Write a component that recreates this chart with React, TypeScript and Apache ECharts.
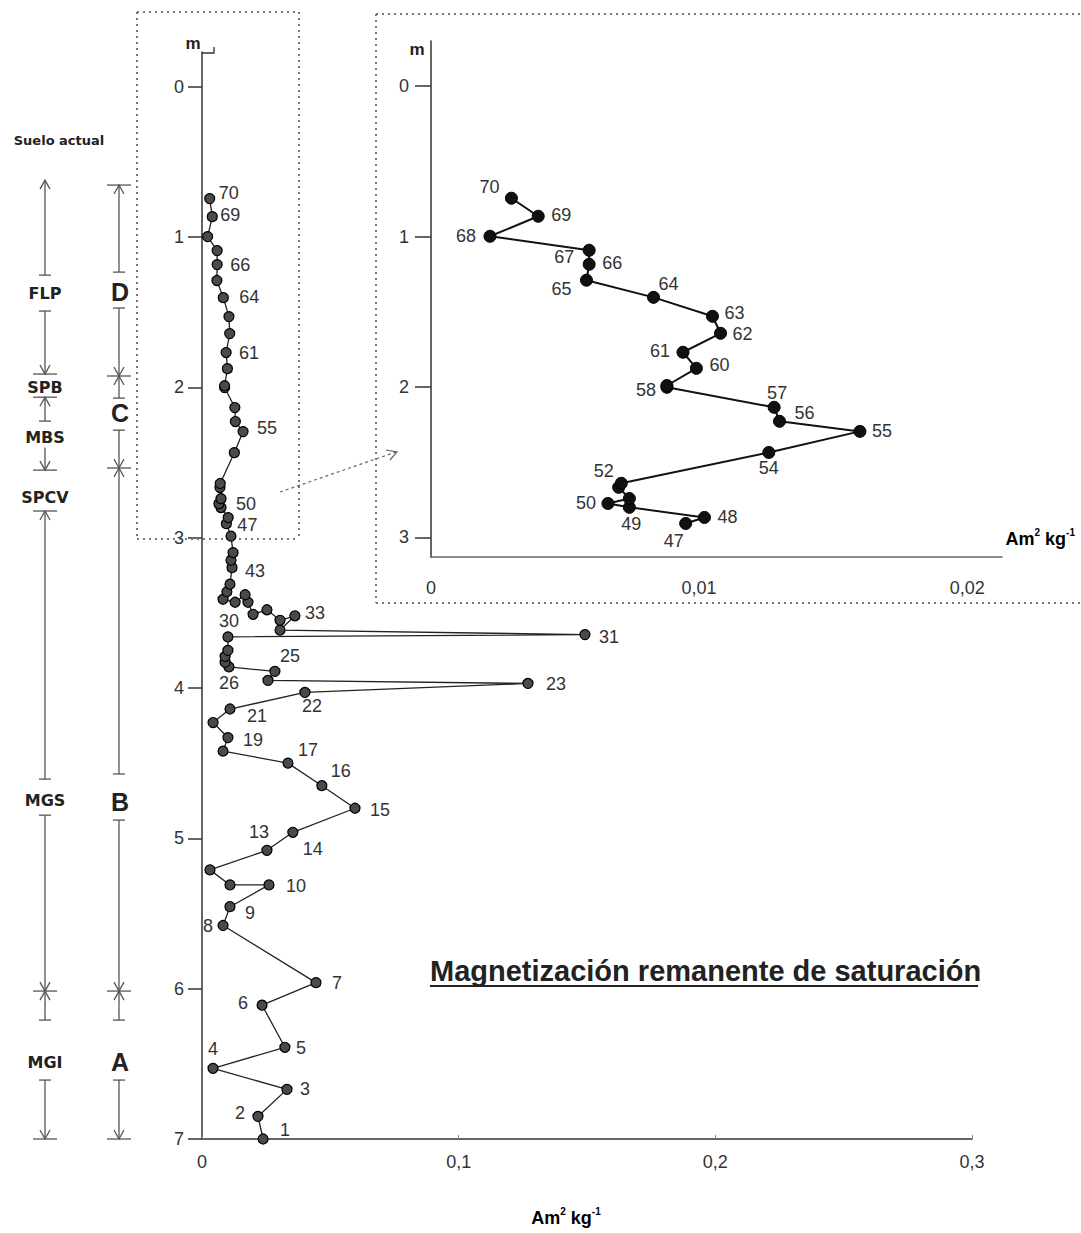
import React, { useEffect, useRef } from "react";
import * as echarts from "echarts";

// Sample numbers (1 = base of the section, 70 = top)
const sampleIds = [
  1, 2, 3, 4, 5, 6, 7, 8, 9, 10, 11, 12, 13, 14, 15, 16, 17, 18, 19, 20,
  21, 22, 23, 24, 25, 26, 27, 28, 29, 30, 31, 32, 33, 34, 35, 36, 37, 38, 39, 40,
  41, 42, 43, 44, 45, 46, 47, 48, 49, 50, 51, 52, 53, 54, 55, 56, 57, 58, 59, 60,
  61, 62, 63, 64, 65, 66, 67, 68, 69, 70,
];

// Saturation remanent magnetization (Am2 kg-1)
const mrsValues = [
  0.0238, 0.0218, 0.0331, 0.0043, 0.0323, 0.0234, 0.0444, 0.0082, 0.0109, 0.0261,
  0.0109, 0.0031, 0.0253, 0.0354, 0.0596, 0.0467, 0.0335, 0.0082, 0.0101, 0.0043,
  0.0109, 0.0401, 0.127, 0.0257, 0.0284, 0.0105, 0.009, 0.009, 0.0101, 0.0101,
  0.1492, 0.0304, 0.0362, 0.0304, 0.0253, 0.0199, 0.0179, 0.0168, 0.0129, 0.0082,
  0.0097, 0.0109, 0.0117, 0.0113, 0.0121, 0.0113, 0.0095, 0.0102, 0.0074, 0.0066,
  0.0074, 0.007, 0.0071, 0.0126, 0.016, 0.013, 0.0128, 0.0088, 0.0088, 0.0099,
  0.0094, 0.0108, 0.0105, 0.0083, 0.0058, 0.0059, 0.0059, 0.0022, 0.004, 0.003,
];

// Depth (m)
const depthValues = [
  7.0, 6.85, 6.67, 6.53, 6.39, 6.11, 5.96, 5.58, 5.455, 5.31,
  5.31, 5.21, 5.08, 4.96, 4.8, 4.65, 4.5, 4.42, 4.33, 4.23,
  4.14, 4.03, 3.97, 3.95, 3.89, 3.86, 3.83, 3.79, 3.75, 3.66,
  3.645, 3.615, 3.52, 3.55, 3.48, 3.51, 3.43, 3.38, 3.43, 3.41,
  3.36, 3.31, 3.2, 3.15, 3.1, 2.99, 2.907, 2.867, 2.8, 2.774,
  2.741, 2.667, 2.64, 2.435, 2.295, 2.228, 2.135, 2.002, 1.99, 1.876,
  1.769, 1.643, 1.53, 1.404, 1.29, 1.184, 1.091, 0.998, 0.865, 0.745,
];

// Samples shown in the enlarged inset (upper 3 m)
const insetIds = [
  47, 48, 49, 50, 51, 52, 53, 54, 55, 56, 57, 58, 59, 60,
  61, 62, 63, 64, 65, 66, 67, 68, 69, 70,
];

const mainDepthTicks = [0, 1, 2, 3, 4, 5, 6, 7];
const insetDepthTicks = [0, 1, 2, 3];

// label placement (styling only): [dx, dy] of the label centre from the point
const mainLabelOffsets: Record<number, [number, number]> = {
  70: [19, -6], 69: [18, -2], 66: [23, 0], 64: [26, -1], 61: [23, 0], 55: [24, -4],
  50: [27, 0], 47: [21, 1], 43: [23, 3], 33: [20, -3], 30: [1, -16], 31: [24, 2],
  25: [15, -15], 26: [0, 16], 23: [28, 1], 22: [7, 14], 21: [27, 7], 19: [25, 2],
  17: [20, -13], 16: [19, -15], 15: [25, 2], 14: [20, 17], 13: [-8, -18], 10: [27, 1],
  9: [20, 6], 8: [-15, 0], 7: [21, 0], 6: [-19, -2], 5: [16, 1], 4: [0, -19],
  3: [18, 0], 2: [-18, -3], 1: [22, -9],
};
const insetLabelOffsets: Record<number, [number, number]> = {
  70: [-22, -11], 69: [23, -1], 68: [-24, 0], 67: [-25, 7], 66: [23, -1], 65: [-25, 9],
  64: [15, -13], 63: [22, -3], 62: [22, 1], 61: [-23, -1], 60: [23, -3], 58: [-21, 3],
  57: [3, -14], 56: [25, -8], 55: [22, 0], 54: [0, 16], 52: [-15, -16], 50: [-22, 0],
  49: [2, 17], 48: [23, 0], 47: [-12, 18],
};

// Stratigraphic columns (depths in m)
const col1Lines = [[0.622, 1.254], [1.493, 1.912], [2.066, 2.225], [2.4, 2.551], [2.823, 4.606], [4.846, 6.016], [6.016, 6.209], [6.608, 7.0]];
const col1Marks: [number, string][] = [[0.622, "up"], [1.254, "tick"], [1.493, "tick"], [1.912, "downBar"], [2.066, "barUp"], [2.225, "tick"], [2.551, "downBar"], [2.823, "barUp"], [4.606, "tick"], [4.846, "tick"], [6.016, "cross"], [6.209, "tick"], [6.608, "tick"], [7.0, "downBar"]];
const col1Labels: [string, number][] = [["FLP", 1.373], ["SPB", 1.999], ["MBS", 2.332], ["SPCV", 2.73], ["MGS", 4.746], ["MGI", 6.488]];
const col2Lines = [[0.655, 1.234], [1.473, 1.925], [1.925, 2.072], [2.285, 2.537], [2.537, 4.572], [4.879, 6.016], [6.016, 6.209], [6.608, 7.0]];
const col2Marks: [number, string][] = [[0.655, "barUp"], [1.234, "tick"], [1.473, "tick"], [1.925, "cross"], [2.072, "tick"], [2.285, "tick"], [2.537, "cross"], [4.572, "tick"], [4.879, "tick"], [6.016, "cross"], [6.209, "tick"], [6.608, "tick"], [7.0, "downBar"]];
const col2Labels: [string, number][] = [["D", 1.367], ["C", 2.172], ["B", 4.759], ["A", 6.488]];

const FONT = "'Liberation Sans', Arial, sans-serif";
const WIDE = "'DejaVu Sans', sans-serif";

const fmtX = (v: number) => (v === 0 ? "0" : String(+v.toFixed(4)).replace(".", ","));

export default function App() {
  const ref = useRef<HTMLDivElement>(null);

  useEffect(() => {
    const chart = echarts.init(ref.current!, null, { renderer: "svg" });

    const pointOf = (id: number) => {
      const i = sampleIds.indexOf(id);
      return [mrsValues[i], depthValues[i]];
    };
    const item = (id: number, offs: Record<number, [number, number]>) => {
      const o = offs[id];
      return {
        value: pointOf(id),
        label: o
          ? { show: true, formatter: String(id), position: "inside", offset: o, fontSize: 18, color: "#333", fontFamily: FONT }
          : { show: false },
      };
    };

    const axisCommon = {
      type: "value",
      splitLine: { show: false },
      axisLine: { show: true, onZero: false, lineStyle: { color: "#333", width: 1.5 } },
    };

    chart.setOption({
      animation: false,
      backgroundColor: "#fff",
      grid: [
        { left: 202, top: 52, width: 770, height: 1087 },
        { left: 431, top: 41, width: 571, height: 516 },
      ],
      xAxis: [
        {
          ...axisCommon, gridIndex: 0, min: 0, max: 0.3, interval: 0.1,
          axisTick: { show: true, inside: true, length: 4, lineStyle: { color: "#888" } },
          axisLabel: { formatter: fmtX, fontSize: 18, color: "#333", fontFamily: FONT, margin: 14 },
        },
        {
          ...axisCommon, gridIndex: 1, min: 0, max: 0.0213, interval: 0.01,
          axisLine: { show: true, onZero: false, lineStyle: { color: "#666", width: 1.5 } },
          axisTick: { show: false },
          axisLabel: { formatter: fmtX, fontSize: 18, color: "#333", fontFamily: FONT, margin: 22 },
        },
      ],
      yAxis: [
        {
          ...axisCommon, gridIndex: 0, inverse: true, min: -0.23, max: 7,
          axisTick: { show: true, customValues: mainDepthTicks, length: 14, lineStyle: { color: "#333", width: 1.5 } },
          axisLabel: { customValues: mainDepthTicks, formatter: (v: number) => String(v), fontSize: 18, color: "#333", fontFamily: FONT, margin: 18 },
        },
        {
          ...axisCommon, gridIndex: 1, inverse: true, min: -0.3, max: 3.13,
          axisTick: { show: true, customValues: insetDepthTicks, length: 16, lineStyle: { color: "#333", width: 1.5 } },
          axisLabel: { customValues: insetDepthTicks, formatter: (v: number) => String(v), fontSize: 18, color: "#333", fontFamily: FONT, margin: 22 },
        },
      ],
      series: [
        {
          type: "line", xAxisIndex: 0, yAxisIndex: 0, clip: false, z: 3,
          data: sampleIds.map((id) => item(id, mainLabelOffsets)),
          symbol: "circle", symbolSize: 10,
          itemStyle: { color: "#4a4a4a", borderColor: "#000", borderWidth: 1.2 },
          lineStyle: { color: "#222", width: 1.3 },
        },
        {
          type: "line", xAxisIndex: 1, yAxisIndex: 1, clip: false, z: 3,
          data: insetIds.map((id) => item(id, insetLabelOffsets)),
          symbol: "circle", symbolSize: 12,
          itemStyle: { color: "#111", borderColor: "#000", borderWidth: 1 },
          lineStyle: { color: "#111", width: 2 },
        },
      ],
    });

    // ----- decorations -----
    const yM = (d: number) => chart.convertToPixel({ yAxisIndex: 0 }, d) as number;
    const stroke = "#555";
    const g: any[] = [];
    const line = (x1: number, y1: number, x2: number, y2: number, style: any = {}) =>
      g.push({ type: "line", silent: true, z: 1, shape: { x1, y1, x2, y2 }, style: { stroke, lineWidth: 1.3, ...style } });
    const poly = (pts: number[][], style: any = {}) =>
      g.push({ type: "polyline", silent: true, z: 1, shape: { points: pts }, style: { stroke, lineWidth: 1.3, fill: "none", ...style } });
    const text = (x: number, y: number, t: string, style: any) =>
      g.push({ type: "text", silent: true, z: 2, x, y, style: { text: t, fill: "#222", align: "center", verticalAlign: "middle", ...style } });

    const drawMark = (x: number, y: number, kind: string) => {
      const aw = 5, ah = 9, bw = 12, tw = 6;
      if (kind === "tick") line(x - tw, y, x + tw, y);
      if (kind === "up" || kind === "barUp" || kind === "cross") poly([[x - aw, y + ah], [x, y], [x + aw, y + ah]]);
      if (kind === "downBar" || kind === "cross") poly([[x - aw, y - ah], [x, y], [x + aw, y - ah]]);
      if (kind === "barUp" || kind === "downBar" || kind === "cross") line(x - bw, y, x + bw, y);
    };
    const drawColumn = (x: number, lines: number[][], marks: [number, string][]) => {
      lines.forEach(([a, b]) => line(x, yM(a), x, yM(b)));
      marks.forEach(([d, k]) => drawMark(x, yM(d), k));
    };
    drawColumn(45, col1Lines, col1Marks);
    drawColumn(119, col2Lines, col2Marks);
    col1Labels.forEach(([t, d]) => text(45, yM(d), t, { fontFamily: WIDE, fontWeight: "bold", fontSize: 16 }));
    col2Labels.forEach(([t, d]) => text(120, yM(d), t, { fontFamily: FONT, fontWeight: "bold", fontSize: 25 }));
    text(59, 140, "Suelo actual", { fontFamily: WIDE, fontWeight: "bold", fontSize: 13 });

    // dotted frames
    const dot = { stroke: "#777", lineWidth: 2, lineDash: [2, 4] };
    line(137, 12, 299, 12, dot);
    line(137, 12, 137, 539, dot);
    line(299, 12, 299, 539, dot);
    line(137, 539, 299, 539, dot);
    line(376, 14, 1081, 14, dot);
    line(376, 14, 376, 603, dot);
    line(376, 603, 1081, 603, dot);
    // dotted pointer arrow
    line(280, 492, 396, 452, { stroke: "#666", lineWidth: 1.2, lineDash: [3, 3] });
    poly([[386, 450], [397, 452], [390, 460]], { stroke: "#666", lineWidth: 1.2 });

    // axis units "m"
    text(193, 43, "m", { fontFamily: FONT, fontSize: 17, fontWeight: "bold" });
    poly([[202, 53], [214, 53], [214, 47]], { stroke: "#333", lineWidth: 1.3 });
    text(417, 49, "m", { fontFamily: FONT, fontSize: 17, fontWeight: "bold" });

    // axis names
    const rich = {
      a: { fontFamily: FONT, fontWeight: "bold", fontSize: 18, lineHeight: 24, color: "#222" },
      s: { fontFamily: FONT, fontWeight: "bold", fontSize: 10, lineHeight: 12, verticalAlign: "top", color: "#222" },
    };
    g.push({ type: "text", silent: true, z: 2, x: 566, y: 1218, style: { text: "{a|Am}{s|2}{a| kg}{s|-1}", rich, align: "center", verticalAlign: "middle" } });
    g.push({ type: "text", silent: true, z: 2, x: 1075, y: 539, style: { text: "{a|Am}{s|2}{a| kg}{s|-1}", rich, align: "right", verticalAlign: "middle" } });

    // title
    text(430, 971, "Magnetización remanente de saturación", { align: "left", fontFamily: FONT, fontWeight: "bold", fontSize: 29, fill: "#222" });
    line(430, 986, 978, 986, { stroke: "#222", lineWidth: 2 });

    chart.setOption({ graphic: g });

    return () => chart.dispose();
  }, []);

  return <div ref={ref} style={{ position: "absolute", left: 0, top: 0, width: 1081, height: 1233, background: "#fff" }} />;
}
